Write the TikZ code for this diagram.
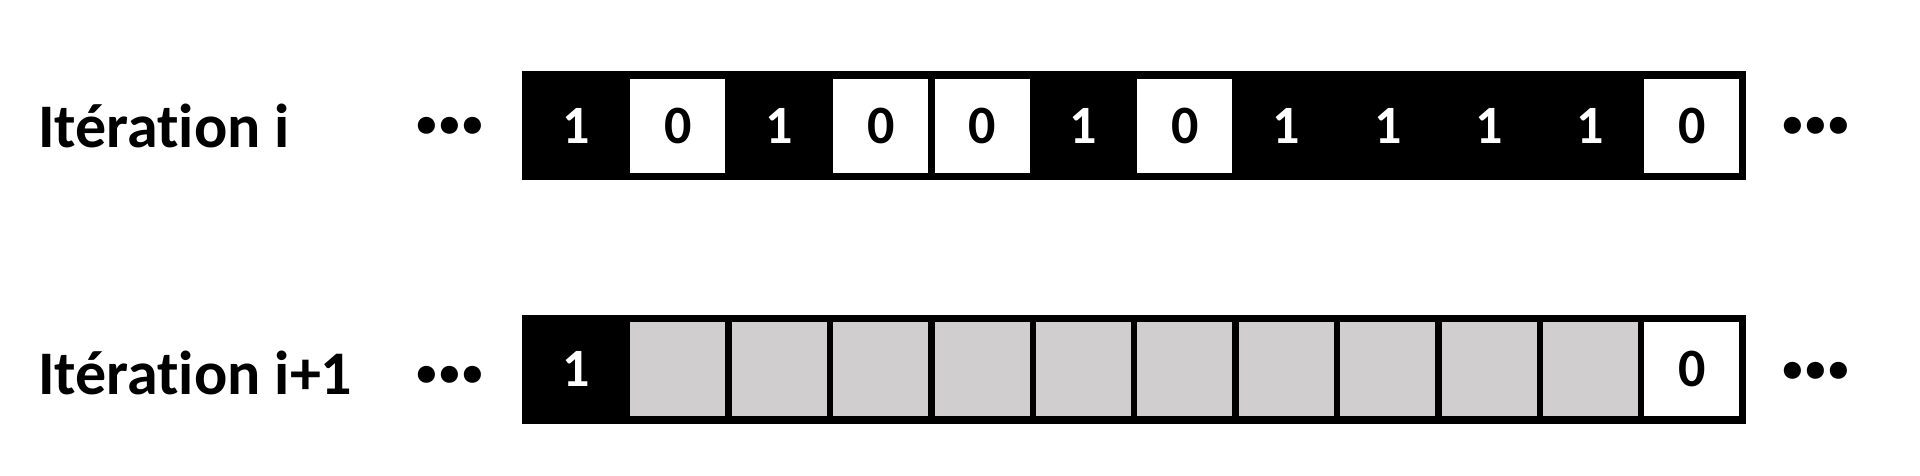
\documentclass[tikz,border=0pt]{standalone}
\usepackage{fontspec}
\setmainfont[Ligatures={NoCommon}]{Carlito}
\definecolor{cellgray}{RGB}{208,206,206}
\newcommand{\mydots}{.\kern-8pt.\kern-8pt.}
\begin{document}
\begin{tikzpicture}[x=1pt,y=-1pt,
  cellbox/.style={minimum width=95pt,minimum height=94pt,inner sep=0pt,
    font=\fontsize{54}{60}\selectfont\bfseries},
  c1/.style={cellbox,fill=black,text=white},
  c0/.style={cellbox,fill=white,text=black},
  blank/.style={cellbox,fill=cellgray},
  frame/.style={fill=black,minimum width=1224pt,minimum height=109pt,inner sep=0pt},
  lbl/.style={font=\fontsize{62}{74}\selectfont\bfseries,anchor=base west,inner sep=0pt},
  dotstxt/.style={font=\fontsize{115}{120}\selectfont\bfseries,anchor=base,inner sep=0pt}]
\useasboundingbox (0,0) rectangle (1920,475);
% labels
\node[lbl] (labA) at (38,147) {Itération i};
\node[lbl] (labB) at (38,394) {Itération i+1};
% frames
\node[frame] (frA) at (1134,125.5) {};
\node[frame] (frB) at (1134,369) {};
% top row
\foreach \v [count=\k from 0] in {1,0,1,0,0,1,0,1,1,1,1,0}
  \node[c\v] (t\k) at ({576.5+101.4*\k},126) {\v};
% bottom row
\node[c1] (b0) at (576.5,368.5) {1};
\foreach \k in {1,...,10}
  \node[blank] (b\k) at ({576.5+101.4*\k},368.5) {};
\node[c0] (b11) at ({576.5+101.4*11},368.5) {0};
% ellipses
\node[dotstxt] (dA1) at (450,133) {\mydots};
\node[dotstxt] (dA2) at (1816,133) {\mydots};
\node[dotstxt] (dB1) at (450,382) {\mydots};
\node[dotstxt] (dB2) at (1816,378) {\mydots};
\end{tikzpicture}
\end{document}
